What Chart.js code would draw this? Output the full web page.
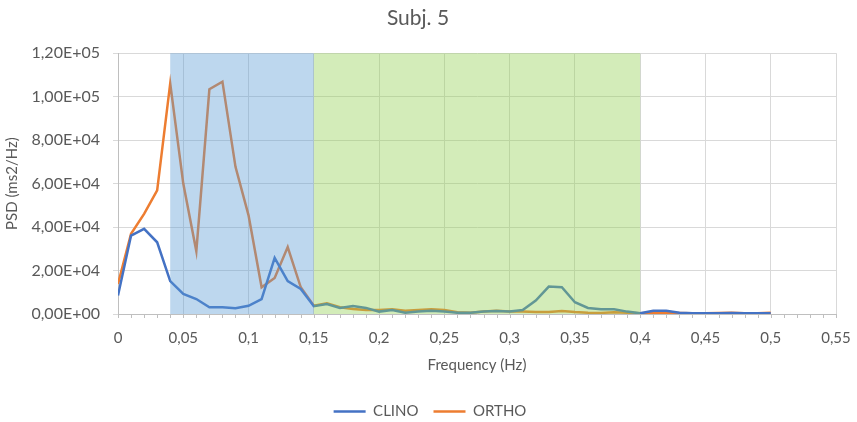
<!DOCTYPE html>
<html>
<head>
<meta charset="utf-8">
<script src="https://cdn.jsdelivr.net/npm/chart.js@4.4.1/dist/chart.umd.min.js"></script>
<style>
  html, body { margin: 0; padding: 0; background: #fff; }
  #wrap { width: 857px; height: 422px; }
</style>
</head>
<body>
<div id="wrap"><canvas id="psdChart" width="857" height="422"></canvas></div>
<script>
// frequency bins (Hz)
const freqs = [0, 0.01, 0.02, 0.03, 0.04, 0.05, 0.06, 0.07, 0.08, 0.09,
  0.10, 0.11, 0.12, 0.13, 0.14, 0.15, 0.16, 0.17, 0.18, 0.19,
  0.20, 0.21, 0.22, 0.23, 0.24, 0.25, 0.26, 0.27, 0.28, 0.29,
  0.30, 0.31, 0.32, 0.33, 0.34, 0.35, 0.36, 0.37, 0.38, 0.39,
  0.40, 0.41, 0.42, 0.43, 0.44, 0.45, 0.46, 0.47, 0.48, 0.49, 0.50];

const clino = [8500, 36100, 39200, 33000, 15100, 9200, 6900, 3100, 3100, 2600,
  3800, 6900, 25800, 15100, 11500, 3600, 4600, 2800, 3700, 2800,
  1100, 1800, 600, 1100, 1500, 1100, 600, 600, 1100, 1400,
  1100, 1800, 6200, 12600, 12300, 5400, 2800, 2200, 2200, 1100,
  300, 1500, 1500, 600, 400, 300, 400, 500, 300, 300, 400];

const ortho = [13800, 36900, 46100, 56900, 106100, 60000, 28900, 103400, 106900, 67700,
  45400, 12300, 16600, 30800, 12300, 3800, 4900, 3100, 2300, 1800,
  1800, 2200, 1500, 1800, 2200, 1800, 800, 600, 1100, 1500,
  1100, 1100, 900, 900, 1400, 900, 600, 500, 800, 600,
  300, 600, 500, 500, 300, 300, 500, 600, 300, 300, 600];

// LF and HF bands (Hz)
const lfBand = [0.04, 0.15];
const hfBand = [0.15, 0.40];

const FONT = "Lato, 'Open Sans', sans-serif";
const TXT = "#595959";

function fmtExp(v) {
  if (v === 0) return "0,00E+00";
  const e = Math.floor(Math.log10(v));
  const m = (v / Math.pow(10, e)).toFixed(2).replace(".", ",");
  return m + "E+" + String(e).padStart(2, "0");
}

// shaded bands drawn over the lines (semi transparent, like the original)
const bandsPlugin = {
  id: "bands",
  afterLayout(chart) {
    // nudge the legend a little right, excel centres it differently
    chart.legend.left += 12;
    chart.legend.right += 12;
  },
  afterDatasetsDraw(chart) {
    const { ctx, scales: { x, y } } = chart;
    const top = y.getPixelForValue(120000);
    const bot = y.getPixelForValue(0);
    ctx.save();
    ctx.fillStyle = "rgba(91,155,213,0.4)";
    ctx.fillRect(x.getPixelForValue(lfBand[0]), top,
      x.getPixelForValue(lfBand[1]) - x.getPixelForValue(lfBand[0]), bot - top);
    ctx.fillStyle = "rgba(146,208,80,0.4)";
    ctx.fillRect(x.getPixelForValue(hfBand[0]), top,
      x.getPixelForValue(hfBand[1]) - x.getPixelForValue(hfBand[0]), bot - top);
    // minor ticks every 0.01 under the x axis
    ctx.strokeStyle = "#bfbfbf";
    ctx.lineWidth = 1;
    ctx.beginPath();
    for (let i = 0; i <= 55; i++) {
      const px = Math.round(x.getPixelForValue(i / 100)) + 0.5;
      ctx.moveTo(px, bot);
      ctx.lineTo(px, bot + 4);
    }
    ctx.stroke();
    ctx.restore();
  }
};

new Chart(document.getElementById("psdChart"), {
  type: "line",
  data: {
    labels: freqs,
    datasets: [{
      label: "CLINO",
      data: freqs.map((f, i) => ({ x: f, y: clino[i] })),
      borderColor: "#4472C4",
      backgroundColor: "#4472C4",
      borderWidth: 2.5,
      pointRadius: 0,
      tension: 0
    }, {
      label: "ORTHO",
      data: freqs.map((f, i) => ({ x: f, y: ortho[i] })),
      borderColor: "#ED7D31",
      backgroundColor: "#ED7D31",
      borderWidth: 2.5,
      pointRadius: 0,
      tension: 0
    }]
  },
  options: {
    responsive: false,
    animation: false,
    layout: { padding: { left: 0, right: 21, top: 0, bottom: -7 } },
    plugins: {
      title: {
        display: true,
        text: "Subj. 5",
        color: TXT,
        font: { family: FONT, size: 21, weight: "normal" },
        padding: { top: 6, bottom: 22 }
      },
      legend: {
        position: "bottom",
        labels: {
          color: TXT,
          font: { family: FONT, size: 15 },
          usePointStyle: true,
          pointStyle: "line",
          pointStyleWidth: 32,
          padding: 15
        }
      },
      tooltip: { enabled: false }
    },
    scales: {
      x: {
        type: "linear",
        min: 0,
        max: 0.55,
        ticks: {
          stepSize: 0.05,
          color: TXT,
          font: { family: FONT, size: 15 },
          padding: 15,
          maxRotation: 0,
          callback: v => Number(v.toFixed(2)).toString().replace(".", ",")
        },
        grid: { color: "#d9d9d9", drawTicks: false },
        border: { color: "#bfbfbf" },
        title: {
          display: true,
          text: "Frequency (Hz)",
          color: TXT,
          font: { family: FONT, size: 15 },
          padding: { top: 10, bottom: 15 }
        },
        afterFit: s => { s.paddingRight = 0; s.paddingLeft = 0; s.height = 75; }
      },
      y: {
        min: 0,
        max: 120000,
        ticks: {
          stepSize: 20000,
          color: TXT,
          font: { family: FONT, size: 16 },
          padding: 13,
          callback: v => fmtExp(v)
        },
        grid: { color: "#d9d9d9", tickLength: 5 },
        border: { color: "#bfbfbf" },
        title: {
          display: true,
          text: "PSD (ms2/Hz)",
          color: TXT,
          font: { family: FONT, size: 15 },
          padding: { top: 3, bottom: 0 }
        },
        afterFit: s => { s.width = 118; }
      }
    }
  },
  plugins: [bandsPlugin]
});
</script>
</body>
</html>
